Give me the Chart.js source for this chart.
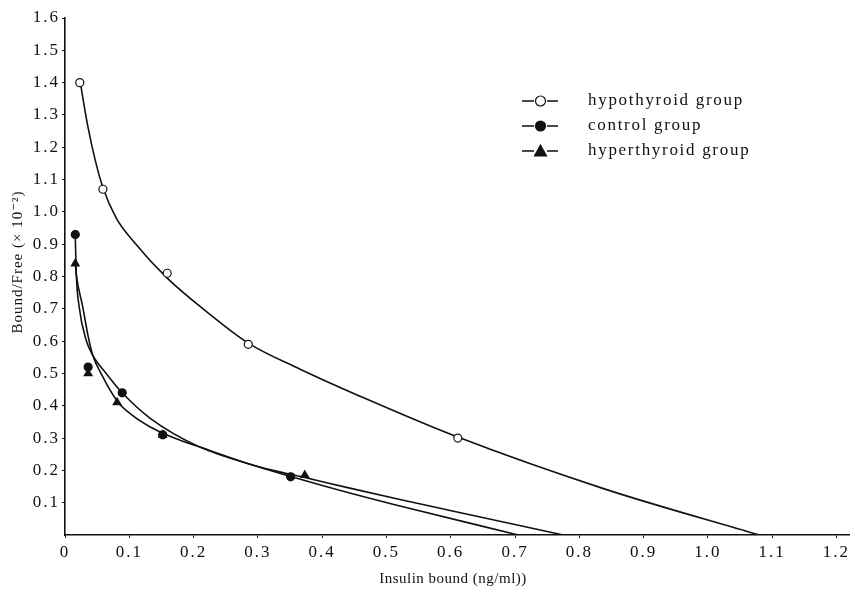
<!DOCTYPE html>
<html><head><meta charset="utf-8">
<script src="https://cdn.jsdelivr.net/npm/chart.js@4/dist/chart.umd.min.js"></script>
<style>html,body{margin:0;padding:0;background:#fff}</style>
</head><body>
<canvas id="c" width="855" height="592"></canvas>
<script>
// ---- data ----
const xTickLabels = ['0','0.1','0.2','0.3','0.4','0.5','0.6','0.7','0.8','0.9','1.0','1.1','1.2'];
const yTickLabels = ['0.1','0.2','0.3','0.4','0.5','0.6','0.7','0.8','0.9','1.0','1.1','1.2','1.3','1.4','1.5','1.6'];
const seriesNames = ['hypothyroid group','control group','hyperthyroid group'];

// measured points
const hypoX  = [0.023, 0.059, 0.159, 0.285, 0.611];
const hypoY  = [1.40, 1.07, 0.81, 0.59, 0.30];
const ctrlX  = [0.016, 0.036, 0.089, 0.152, 0.351];
const ctrlY  = [0.93, 0.52, 0.44, 0.31, 0.18];
const hyperX = [0.016, 0.036, 0.081, 0.152, 0.373];
const hyperY = [0.84, 0.50, 0.41, 0.31, 0.185];

// fitted curves
const hypoCurveX  = [0.023, 0.035, 0.047, 0.059, 0.08, 0.106, 0.159, 0.221, 0.285, 0.365, 0.47, 0.611, 0.84, 1.08];
const hypoCurveY  = [1.41, 1.27, 1.16, 1.075, 0.98, 0.91, 0.795, 0.69, 0.594, 0.514, 0.42, 0.303, 0.142, 0];
const ctrlCurveX  = [0.016, 0.0175, 0.022, 0.0327, 0.043, 0.064, 0.089, 0.132, 0.21, 0.303, 0.35, 0.443, 0.521, 0.705];
const ctrlCurveY  = [0.925, 0.81, 0.707, 0.604, 0.557, 0.50, 0.44, 0.362, 0.272, 0.21, 0.182, 0.13, 0.09, 0];
const hyperCurveX = [0.016, 0.018, 0.0275, 0.036, 0.043, 0.056, 0.081, 0.105, 0.132, 0.17, 0.21, 0.303, 0.373, 0.443, 0.521, 0.599, 0.775];
const hyperCurveY = [0.841, 0.80, 0.707, 0.615, 0.557, 0.50, 0.415, 0.37, 0.335, 0.30, 0.272, 0.21, 0.178, 0.145, 0.11, 0.076, 0];

const xTitle = 'Insulin bound (ng/ml))';
const yTitle = 'Bound/Free (× 10⁻²)';

// ---- build ----
const zip = (xs, ys) => xs.map((x, i) => ({x, y: ys[i]}));
const SERIF = '"Liberation Serif", "DejaVu Serif", serif';

function curveDs(xs, ys) {
  return {
    data: zip(xs, ys), showLine: true, borderColor: '#111', borderWidth: 1.6,
    pointRadius: 0, pointHoverRadius: 0, cubicInterpolationMode: 'monotone', fill: false, order: 2
  };
}
function markDs(label, xs, ys, style, filled) {
  return {
    label, data: zip(xs, ys), showLine: false, pointStyle: style,
    pointRadius: style === 'triangle' ? 4.5 : 4, borderWidth: 1.2,
    borderColor: '#111', backgroundColor: filled ? '#111' : '#fff', order: 1
  };
}

const legendItems = [
  {text: seriesNames[0], style: 'circle', filled: false},
  {text: seriesNames[1], style: 'circle', filled: true},
  {text: seriesNames[2], style: 'triangle', filled: true}
];

const spacingPlugin = {
  id: 'spacing',
  beforeUpdate(chart) { chart.ctx.letterSpacing = '2px'; },
  beforeDraw(chart) { chart.ctx.letterSpacing = '2px'; }
};

const overlayPlugin = {
  id: 'overlay',
  afterDraw(chart) {
    const ctx = chart.ctx;
    ctx.save();
    // legend
    const ys = [101, 126, 151];
    legendItems.forEach((it, i) => {
      const y = ys[i];
      ctx.strokeStyle = '#111'; ctx.lineWidth = 1.6;
      ctx.beginPath(); ctx.moveTo(522, y); ctx.lineTo(534, y); ctx.moveTo(547, y); ctx.lineTo(558, y); ctx.stroke();
      ctx.fillStyle = it.filled ? '#111' : '#fff';
      ctx.lineWidth = 1.2;
      if (it.style === 'circle') {
        ctx.beginPath(); ctx.arc(540.5, y, 5, 0, Math.PI * 2); ctx.fill(); ctx.stroke();
      } else {
        ctx.beginPath(); ctx.moveTo(540.5, y - 6); ctx.lineTo(546.5, y + 5); ctx.lineTo(534.5, y + 5); ctx.closePath(); ctx.fill(); ctx.stroke();
      }
      ctx.fillStyle = '#111';
      ctx.letterSpacing = '1.7px';
      ctx.font = '17px ' + SERIF;
      ctx.textBaseline = 'middle'; ctx.textAlign = 'left';
      ctx.fillText(it.text, 588, y);
    });
    // axis titles
    ctx.fillStyle = '#111';
    ctx.letterSpacing = '0.5px';
    ctx.font = '15px ' + SERIF;
    ctx.textAlign = 'center'; ctx.textBaseline = 'middle';
    ctx.fillText(xTitle, 453, 579);
    ctx.save();
    ctx.translate(18, 262);
    ctx.rotate(-Math.PI / 2);
    ctx.letterSpacing = '1px';
    ctx.font = '15px ' + SERIF;
    ctx.fillText(yTitle, 0, 0);
    ctx.restore();
    ctx.restore();
  }
};

new Chart(document.getElementById('c'), {
  type: 'scatter',
  data: {
    datasets: [
      markDs(seriesNames[0], hypoX, hypoY, 'circle', false),
      markDs(seriesNames[1], ctrlX, ctrlY, 'circle', true),
      markDs(seriesNames[2], hyperX, hyperY, 'triangle', true),
      curveDs(hypoCurveX, hypoCurveY),
      curveDs(ctrlCurveX, ctrlCurveY),
      curveDs(hyperCurveX, hyperCurveY)
    ]
  },
  options: {
    responsive: false, animation: false, devicePixelRatio: 1,
    layout: {padding: {left: 0, right: 5, top: 18, bottom: 0}},
    plugins: {legend: {display: false}, tooltip: {enabled: false}},
    scales: {
      x: {
        type: 'linear', min: 0, max: 1.22,
        afterBuildTicks: s => { s.ticks = xTickLabels.map((_, i) => ({value: i / 10})); },
        afterFit: s => { s.height = 57; },
        border: {display: true, color: '#111', width: 1.6},
        grid: {display: true, drawOnChartArea: false, drawTicks: true, tickLength: 3, color: '#111'},
        ticks: {
          color: '#111', padding: 4, maxRotation: 0, autoSkip: false,
          font: {family: SERIF, size: 17},
          callback: (v, i) => xTickLabels[i]
        },
        title: {display: false}
      },
      y: {
        type: 'linear', min: 0, max: 1.6,
        afterBuildTicks: s => { s.ticks = yTickLabels.map((_, i) => ({value: (i + 1) / 10})); },
        afterFit: s => { s.width = 65; },
        border: {display: true, color: '#111', width: 1.6},
        grid: {display: true, drawOnChartArea: false, drawTicks: true, tickLength: 3, color: '#111'},
        ticks: {
          color: '#111', padding: 2, autoSkip: false,
          font: {family: SERIF, size: 17},
          callback: (v, i) => yTickLabels[i]
        },
        title: {display: false}
      }
    }
  },
  plugins: [spacingPlugin, overlayPlugin]
});
</script>
</body></html>
